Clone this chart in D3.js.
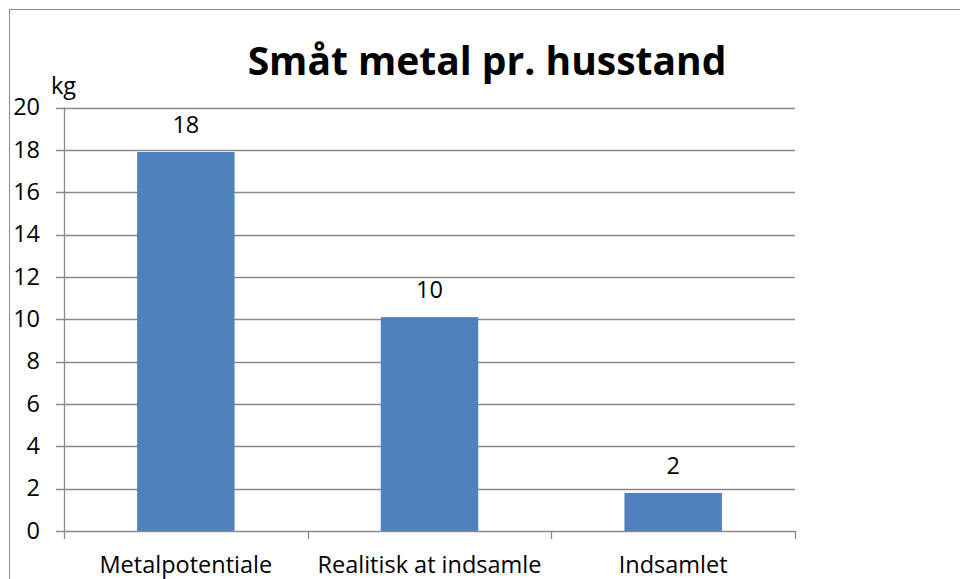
<!DOCTYPE html>
<html>
<head>
<meta charset="utf-8">
<script src="https://cdn.jsdelivr.net/npm/d3@7"></script>
<style>
  body { margin: 0; background: #fff; }
  text { font-family: "Open Sans", "Noto Sans", sans-serif; fill: #000; }
</style>
</head>
<body>
<div id="chart"></div>
<script>
const categories = ["Metalpotentiale", "Realitisk at indsamle", "Indsamlet"];
const values = [17.9, 10.1, 1.8];
const yTicks = [0, 2, 4, 6, 8, 10, 12, 14, 16, 18, 20];
const title = "Småt metal pr. husstand";
const unit = "kg";

const width = 960, height = 579;
const plot = { left: 64, right: 795, top: 107.5, bottom: 531 };

const svg = d3.select("#chart").append("svg")
  .attr("width", width)
  .attr("height", height);

// outer chart frame
svg.append("rect")
  .attr("x", 9.5).attr("y", 9.5)
  .attr("width", width + 20).attr("height", height + 20)
  .attr("fill", "none")
  .attr("stroke", "#8c8c8c");

const x = d3.scaleBand()
  .domain(categories)
  .range([plot.left, plot.right])
  .padding(0);

const y = d3.scaleLinear()
  .domain([0, 20])
  .range([plot.bottom, plot.top]);

// gridlines
svg.append("g")
  .selectAll("line")
  .data(yTicks)
  .enter().append("line")
  .attr("x1", plot.left - 8)
  .attr("x2", plot.right)
  .attr("y1", d => Math.round(y(d)) + 0.5)
  .attr("y2", d => Math.round(y(d)) + 0.5)
  .attr("stroke", "#8a8a8a")
  .attr("stroke-width", 1.3);

// bars
const barW = x.bandwidth() * 0.4;
svg.append("g")
  .selectAll("rect")
  .data(values)
  .enter().append("rect")
  .attr("x", (d, i) => x(categories[i]) + (x.bandwidth() - barW) / 2)
  .attr("y", d => y(d))
  .attr("width", barW)
  .attr("height", d => y(0) - y(d))
  .attr("fill", "#4f81bd");

// y axis line
svg.append("line")
  .attr("x1", plot.left + 0.5).attr("x2", plot.left + 0.5)
  .attr("y1", plot.top).attr("y2", plot.bottom + 8)
  .attr("stroke", "#8a8a8a")
  .attr("stroke-width", 1.3);

// x category tick marks
const xBounds = categories.map(c => x(c)).concat([x(categories[categories.length - 1]) + x.bandwidth()]);
svg.append("g")
  .selectAll("line")
  .data(xBounds.slice(1))
  .enter().append("line")
  .attr("x1", d => Math.round(d) + 0.5)
  .attr("x2", d => Math.round(d) + 0.5)
  .attr("y1", plot.bottom)
  .attr("y2", plot.bottom + 8)
  .attr("stroke", "#8a8a8a")
  .attr("stroke-width", 1.3);

// y tick labels
svg.append("g")
  .selectAll("text")
  .data(yTicks)
  .enter().append("text")
  .attr("x", 40)
  .attr("y", d => y(d))
  .attr("dy", "0.33em")
  .attr("text-anchor", "end")
  .style("font-size", "23.5px")
  .text(d => d);

// x category labels
svg.append("g")
  .selectAll("text")
  .data(categories)
  .enter().append("text")
  .attr("x", d => x(d) + x.bandwidth() / 2)
  .attr("y", 573)
  .attr("text-anchor", "middle")
  .style("font-size", "23.5px")
  .text(d => d);

// data labels
svg.append("g")
  .selectAll("text")
  .data(values)
  .enter().append("text")
  .attr("x", (d, i) => x(categories[i]) + x.bandwidth() / 2)
  .attr("y", d => y(d) - 19)
  .attr("text-anchor", "middle")
  .style("font-size", "23.5px")
  .text(d => d3.format(".0f")(d));

// unit label
svg.append("text")
  .attr("x", 51)
  .attr("y", 94)
  .style("font-size", "23.5px")
  .text(unit);

// title
svg.append("text")
  .attr("x", 487)
  .attr("y", 75)
  .attr("text-anchor", "middle")
  .style("font-size", "39px")
  .style("font-weight", "bold")
  .text(title);
</script>
</body>
</html>
